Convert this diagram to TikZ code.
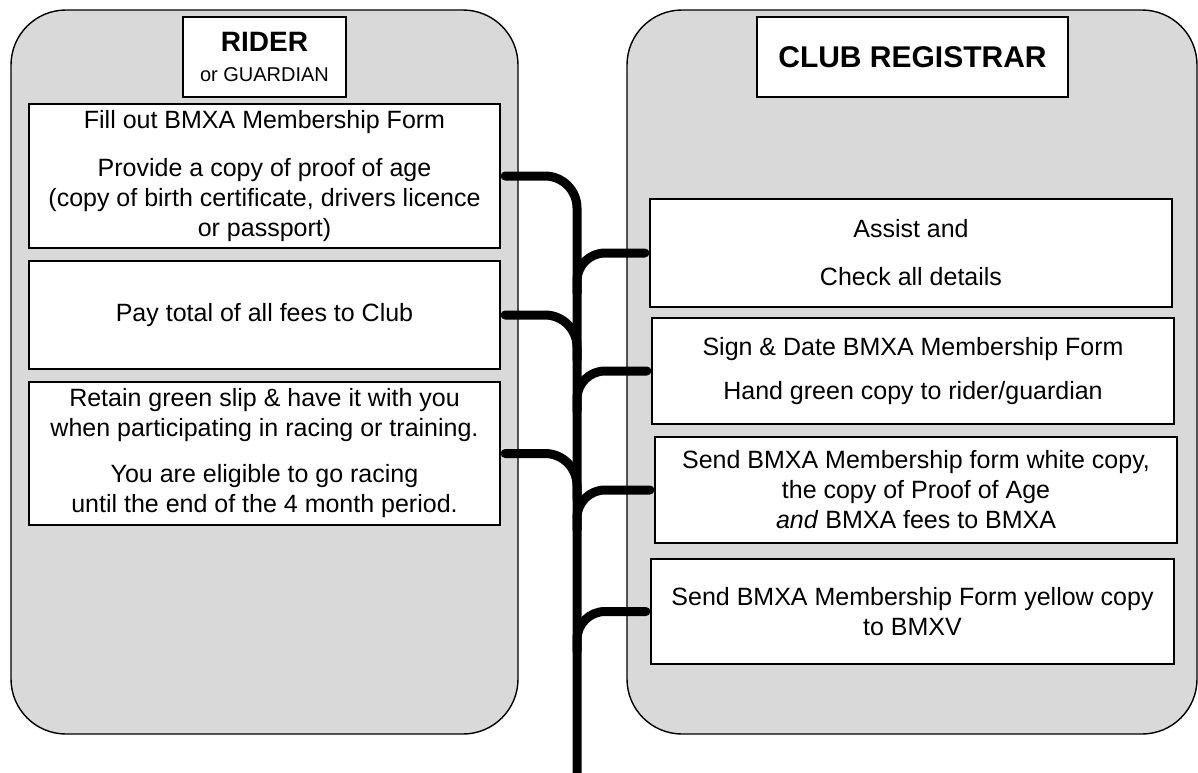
\documentclass[tikz,border=0pt]{standalone}
\usepackage{fontspec}
\setmainfont{Liberation Sans}
\usetikzlibrary{calc}

\definecolor{panelgray}{HTML}{D9D9D9}
\newcommand{\bodyfont}{\fontsize{12.5}{15}\selectfont}

\tikzset{
  panel/.style={draw=black, line width=0.7pt, fill=panelgray, rounded corners=27.5pt},
  stepbox/.style={draw=black, line width=0.7pt, fill=white, align=center, inner sep=0pt, font=\bodyfont},
  conn/.style={line width=4.5pt, line cap=round}
}

\begin{document}
\begin{tikzpicture}[x=0.5pt,y=-0.5pt]
\useasboundingbox (0,0) rectangle (1198,772);

\draw[panel] (11,10) rectangle (518,734);
\draw[panel] (627,10) rectangle (1197,734);


\node[stepbox, minimum width=81.5pt, minimum height=40pt] (riderT) at (264.5,57)
  {{\fontsize{14}{17.5}\selectfont\bfseries RIDER}\\{\fontsize{10}{12}\selectfont or GUARDIAN}};
\node[stepbox, minimum width=155.5pt, minimum height=40pt] (clubT) at (912.5,57)
  {\fontsize{15}{18}\selectfont\bfseries CLUB REGISTRAR};

  \node[stepbox, minimum width=235.5pt, minimum height=72pt] (L1) at (264.5,176)
  {Fill out BMXA Membership Form\\[9pt]Provide a copy of proof of age\\(copy of birth certificate, drivers licence\\or passport)};
  \node[stepbox, minimum width=235.5pt, minimum height=54pt] (L2) at (264.5,315)
  {Pay total of all fees to Club};
  \node[stepbox, minimum width=235.5pt, minimum height=71.5pt] (L3) at (264.5,453.5)
  {Retain green slip \& have it with you\\when participating in racing or training.\\[8pt]You are eligible to go racing\\until the end of the 4 month period.};

  \node[stepbox, minimum width=261pt, minimum height=54pt] (R1) at (911,253)
  {Assist and\\[9pt]Check all details};
  \node[stepbox, minimum width=261pt, minimum height=53pt] (R2) at (913,371)
  {Sign \& Date BMXA Membership Form\\[7pt]Hand green copy to rider/guardian};
  \node[stepbox, minimum width=261pt, minimum height=53pt] (R3) at (916,490)
  {Send BMXA Membership form white copy,\\the copy of Proof of Age\\\textit{and} BMXA fees to BMXA};
  \node[stepbox, minimum width=261.5pt, minimum height=52.5pt] (R4) at (912.5,611.5)
  {Send BMXA Membership Form yellow copy\\to BMXV};

% trunk
\coordinate (trk) at (577,776);
\draw[conn, rounded corners=16pt, shorten <=2.2pt] (L1.east) -| (trk);

\draw[conn, rounded corners=16pt, shorten <=2.2pt] (L2.east) -| ($(L2.east -| trk)+(0,45)$);
\draw[conn, rounded corners=16pt, shorten <=2.2pt] (L3.east) -| ($(L3.east -| trk)+(0,45)$);

\draw[conn, rounded corners=14pt, shorten >=2.2pt] ($(R1.west -| trk)+(0,40)$) |- (R1.west);
\draw[conn, rounded corners=14pt, shorten >=2.2pt] ($(R2.west -| trk)+(0,40)$) |- (R2.west);
\draw[conn, rounded corners=14pt, shorten >=2.2pt] ($(R3.west -| trk)+(0,40)$) |- (R3.west);
\draw[conn, rounded corners=14pt, shorten >=2.2pt] ($(R4.west -| trk)+(0,40)$) |- (R4.west);

\end{tikzpicture}
\end{document}
